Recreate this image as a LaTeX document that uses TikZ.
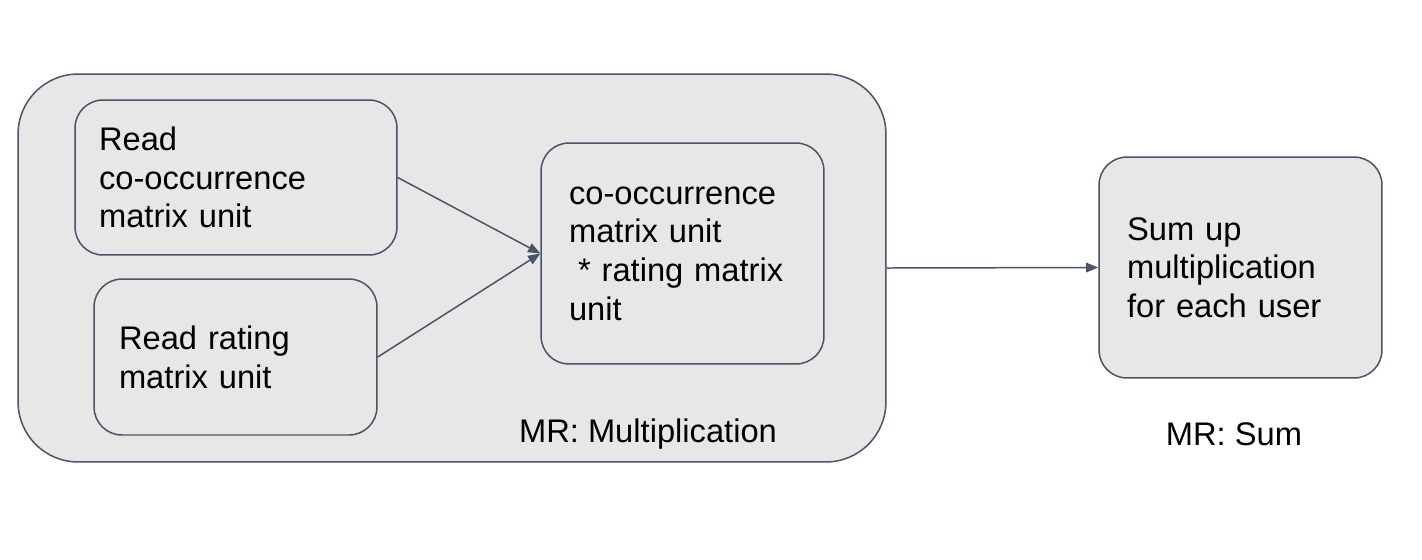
\documentclass[tikz,border=0pt]{standalone}
\usepackage{fontspec}
\setmainfont{Liberation Sans}
\usetikzlibrary{arrows.meta}
\definecolor{boxgrey}{HTML}{E8E6E6}
\definecolor{edgeslate}{HTML}{4A5468}
\begin{document}
\begin{tikzpicture}[x=0.02cm,y=-0.02cm,
      font=\fontsize{18.6}{22}\selectfont,
      unitbox/.style={draw=edgeslate, line width=0.85pt, rounded corners=0.56cm,
        align=left, inner ysep=0pt},
      flow/.style={draw=edgeslate, line width=0.85pt,
        -{Triangle[length=7pt,width=5.5pt]}}]
      \useasboundingbox (0,0) rectangle (1422,559);
      \path (452,268) node[draw=edgeslate, line width=0.85pt, fill=boxgrey,
        rounded corners=1.2cm, minimum width=17.36cm, minimum height=7.76cm] (mult) {};
      \path (1240.5,267.5) node[unitbox, fill=boxgrey, minimum height=4.42cm,
        text width=4.54cm, inner xsep=0.56cm] (sumup)
        {Sum up\\multiplication\\for each user};
      \path (236,177.5) node[unitbox, minimum height=3.1cm,
        text width=5.48cm, inner xsep=0.48cm] (readco)
        {Read\\co-occurrence\\matrix unit};
      \path (235.5,357) node[unitbox, minimum height=3.12cm,
        text width=4.66cm, inner xsep=0.5cm] (readrt)
        {Read rating\\matrix unit};
      \path (682.5,253.5) node[unitbox, minimum height=4.42cm,
        text width=4.54cm, inner xsep=0.56cm] (prod)
        {co-occurrence\\matrix unit\\\hspace*{0.18cm}* rating matrix\\unit};
      \path (648,434) node (multlabel) {MR: Multiplication};
      \path (1234,434) node (sumlabel) {MR: Sum};
      \draw[flow] (readco.east) -- (prod.west);
      \draw[flow] (readrt.east) -- (prod.west);
      \draw[flow] (mult.east) -- (sumup.west);
\end{tikzpicture}
\end{document}
